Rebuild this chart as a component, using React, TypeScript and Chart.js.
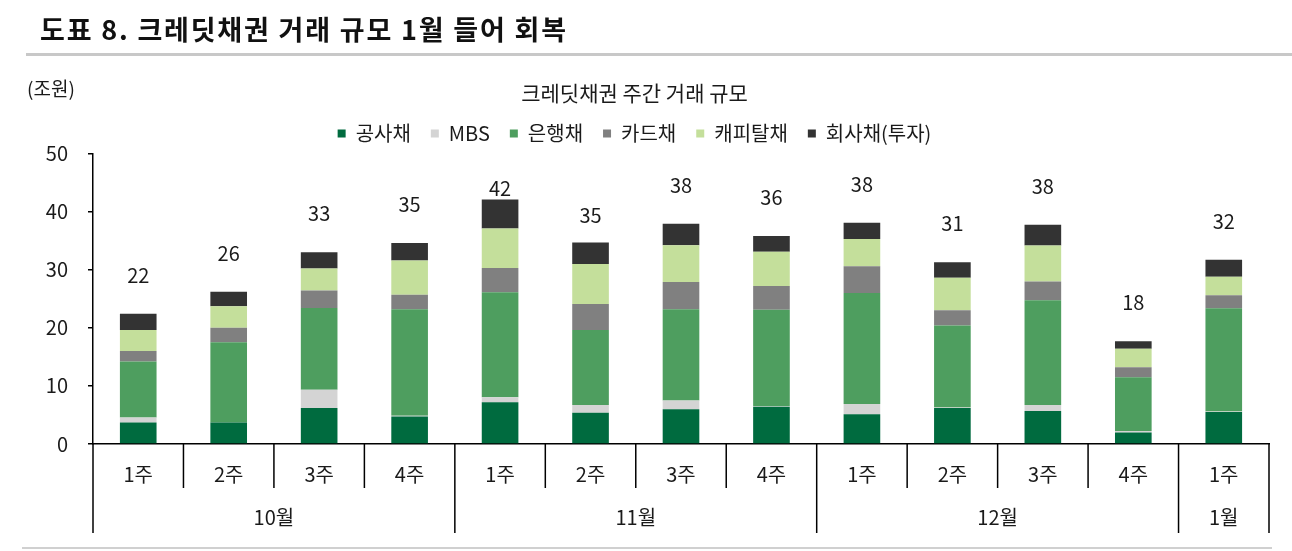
import React, { useEffect, useRef } from "react";
import { Chart, registerables } from "chart.js";
Chart.register(...registerables);

const weeks = ["1주", "2주", "3주", "4주", "1주", "2주", "3주", "4주", "1주", "2주", "3주", "4주", "1주"];
const months = ["10월", "11월", "12월", "1월"];
const monthSpans = [4, 4, 4, 1];
const publicBonds = [3.7, 3.7, 6.2, 4.75, 7.2, 5.4, 6.0, 6.4, 5.1, 6.2, 5.7, 2.0, 5.5];
const mbs = [0.85, 0, 3.15, 0.1, 0.85, 1.3, 1.5, 0.1, 1.8, 0.1, 1.0, 0.25, 0.1];
const bankBonds = [9.65, 13.8, 14.05, 18.35, 18.05, 12.9, 15.7, 16.6, 19.1, 14.1, 18.05, 9.25, 17.75];
const cardBonds = [1.8, 2.5, 3.0, 2.5, 4.2, 4.5, 4.7, 4.1, 4.6, 2.6, 3.2, 1.7, 2.25];
const capitalBonds = [3.6, 3.7, 3.8, 5.9, 6.8, 6.9, 6.3, 5.9, 4.7, 5.6, 6.2, 3.2, 3.2];
const corpBonds = [2.8, 2.5, 2.8, 3.0, 5.0, 3.7, 3.7, 2.7, 2.8, 2.7, 3.6, 1.3, 2.9];
const seriesNames = ["공사채", "MBS", "은행채", "카드채", "캐피탈채", "회사채(투자)"];
const yMin = 0;
const yMax = 50;
const yStep = 10;

const FONT = "'Noto Sans CJK KR', 'Noto Sans', sans-serif";
const TEXT = "#1a1a1a";

const totalLabelsPlugin = {
  id: "totalLabels",
  afterDatasetsDraw(chart: any, _args: any, opts: any) {
    const { ctx } = chart;
    const xs = chart.scales.x;
    const ys = chart.scales.y;
    ctx.save();
    ctx.font = `20px ${FONT}`;
    ctx.fillStyle = TEXT;
    ctx.textAlign = "center";
    ctx.textBaseline = "middle";
    weeks.forEach((_, i) => {
      let total = 0;
      chart.data.datasets.forEach((ds: any) => (total += ds.data[i]));
      const x = xs.getPixelForValue(i);
      const lift = opts.lift[i] ?? 38;
      const y = ys.getPixelForValue(total) - lift;
      ctx.fillText(String(Math.round(total)), x, y);
    });
    ctx.restore();
  },
};

const twoLevelAxisPlugin = {
  id: "twoLevelAxis",
  afterDraw(chart: any) {
    const { ctx, chartArea } = chart;
    const xs = chart.scales.x;
    const n = weeks.length;
    const half = (xs.getPixelForValue(1) - xs.getPixelForValue(0)) / 2;
    const bottom = chartArea.bottom;
    const monthBounds = new Set<number>();
    let acc = 0;
    monthBounds.add(0);
    monthSpans.forEach((s) => {
      acc += s;
      monthBounds.add(acc);
    });
    ctx.save();
    ctx.strokeStyle = "#000";
    ctx.lineWidth = 1.5;
    for (let i = 0; i <= n; i++) {
      const x = i < n ? xs.getPixelForValue(i) - half : xs.getPixelForValue(n - 1) + half;
      const y2 = monthBounds.has(i) ? bottom + 89 : bottom + 44;
      ctx.beginPath();
      ctx.moveTo(x, bottom);
      ctx.lineTo(x, y2);
      ctx.stroke();
    }
    ctx.font = `20px ${FONT}`;
    ctx.fillStyle = TEXT;
    ctx.textAlign = "center";
    ctx.textBaseline = "middle";
    weeks.forEach((w, i) => {
      ctx.fillText(w, xs.getPixelForValue(i), bottom + 30);
    });
    let start = 0;
    months.forEach((m, k) => {
      const end = start + monthSpans[k] - 1;
      const x = (xs.getPixelForValue(start) + xs.getPixelForValue(end)) / 2;
      ctx.fillText(m, x, bottom + 73);
      start = end + 1;
    });
    ctx.restore();
  },
};

export default function App() {
  const ref = useRef<HTMLCanvasElement | null>(null);
  useEffect(() => {
    if (!ref.current) return;
    Chart.defaults.font.family = FONT;
    const colors = ["#006b3f", "#d4d4d4", "#4e9e5f", "#808080", "#c4df9b", "#333333"];
    const values = [publicBonds, mbs, bankBonds, cardBonds, capitalBonds, corpBonds];
    const chart = new Chart(ref.current, {
      type: "bar",
      data: {
        labels: weeks,
        datasets: seriesNames.map((name, k) => ({
          label: name,
          data: values[k],
          backgroundColor: colors[k],
          borderWidth: 0,
          categoryPercentage: 1,
          barPercentage: 0.405,
        })),
      },
      options: {
        responsive: false,
        maintainAspectRatio: false,
        animation: false,
        layout: { padding: { left: 0, right: 23, top: 0, bottom: 0 } },
        scales: {
          x: {
            stacked: true,
            grid: { display: false },
            ticks: { display: false },
            border: { display: true, color: "#000", width: 1.5 },
            afterFit: (s: any) => {
              s.height = 107;
            },
          },
          y: {
            stacked: true,
            min: yMin,
            max: yMax,
            ticks: { stepSize: yStep, color: TEXT, font: { size: 20 }, padding: 20 },
            grid: { drawOnChartArea: false, drawTicks: true, tickLength: 5, color: "#000", lineWidth: 1.5 },
            border: { display: true, color: "#000", width: 1.5 },
            afterFit: (s: any) => {
              s.width = 93;
            },
          },
        },
        plugins: {
          title: {
            display: true,
            text: "크레딧채권 주간 거래 규모",
            color: TEXT,
            font: { size: 21, weight: "normal", lineHeight: 1 },
            padding: { top: 82.5, bottom: 0 },
          },
          legend: {
            position: "top",
            labels: {
              boxWidth: 8,
              boxHeight: 8,
              color: TEXT,
              font: { size: 20 },
              padding: 20,
            },
          },
          tooltip: { enabled: false },
          totalLabels: { lift: [38.5, 38.5, 38.5, 38.5, 11, 27, 38.5, 38.5, 38.5, 38.5, 38.5, 38.5, 38.5] },
        } as any,
      },
      plugins: [totalLabelsPlugin, twoLevelAxisPlugin],
    });
    return () => chart.destroy();
  }, []);

  return (
    <div style={{ position: "fixed", left: 0, top: 0, width: 1292, height: 551, background: "#fff", fontFamily: FONT }}>
      <canvas ref={ref} width={1292} height={551} style={{ position: "absolute", left: 0, top: 0, display: "block" }} />
      <div
        style={{
          position: "absolute",
          left: 40,
          top: 14,
          fontSize: 27,
          lineHeight: "30px",
          fontWeight: 700,
          letterSpacing: "1.8px",
          color: "#111",
          whiteSpace: "nowrap",
        }}
      >
        도표 8. 크레딧채권 거래 규모 1월 들어 회복
      </div>
      <div style={{ position: "absolute", left: 26, top: 53, width: 1266, height: 3, background: "#c8c8c8" }} />
      <div
        style={{
          position: "absolute",
          left: 27,
          top: 77,
          fontSize: 19,
          lineHeight: "22px",
          color: TEXT,
          whiteSpace: "nowrap",
        }}
      >
        (조원)
      </div>
      <div style={{ position: "absolute", left: 22, top: 547, width: 1250, height: 2, background: "#d0d0d0" }} />
    </div>
  );
}
